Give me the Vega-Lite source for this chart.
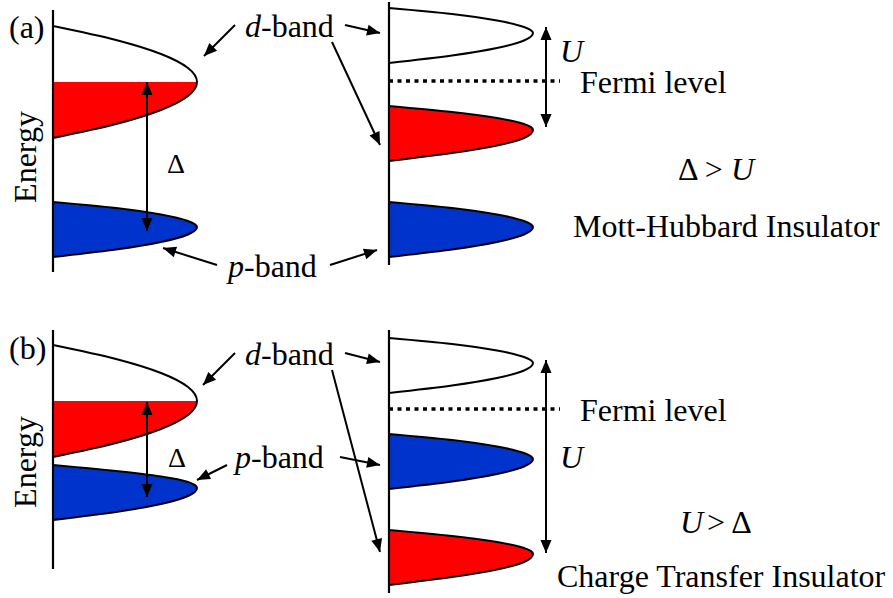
{
  "$schema": "https://vega.github.io/schema/vega-lite/v6.json",
  "width": 893,
  "height": 598,
  "padding": 0,
  "autosize": {"type": "none"},
  "background": "white",
  "config": {"view": {"stroke": null}},
  "datasets": {
    "bands": [
      {"band": "a-dL", "kind": "empty", "base": 53, "y": 26, "x": 53},
      {"band": "a-dL", "kind": "empty", "base": 53, "y": 40, "x": 116},
      {"band": "a-dL", "kind": "empty", "base": 53, "y": 54, "x": 161},
      {"band": "a-dL", "kind": "empty", "base": 53, "y": 68, "x": 188},
      {"band": "a-dL", "kind": "occupied", "base": 53, "y": 82, "x": 197},
      {"band": "a-dL", "kind": "occupied", "base": 53, "y": 96, "x": 188},
      {"band": "a-dL", "kind": "occupied", "base": 53, "y": 110, "x": 161},
      {"band": "a-dL", "kind": "occupied", "base": 53, "y": 124, "x": 116},
      {"band": "a-dL", "kind": "occupied", "base": 53, "y": 138, "x": 53},

      {"band": "a-pL", "kind": "p", "base": 53, "y": 202, "x": 53},
      {"band": "a-pL", "kind": "p", "base": 53, "y": 208, "x": 116},
      {"band": "a-pL", "kind": "p", "base": 53, "y": 214.5, "x": 161},
      {"band": "a-pL", "kind": "p", "base": 53, "y": 221, "x": 188},
      {"band": "a-pL", "kind": "p", "base": 53, "y": 227, "x": 197},
      {"band": "a-pL", "kind": "p", "base": 53, "y": 234.5, "x": 188},
      {"band": "a-pL", "kind": "p", "base": 53, "y": 242, "x": 161},
      {"band": "a-pL", "kind": "p", "base": 53, "y": 249.5, "x": 116},
      {"band": "a-pL", "kind": "p", "base": 53, "y": 257, "x": 53},

      {"band": "a-wR", "kind": "empty", "base": 389, "y": 8, "x": 389},
      {"band": "a-wR", "kind": "empty", "base": 389, "y": 14, "x": 452},
      {"band": "a-wR", "kind": "empty", "base": 389, "y": 20.5, "x": 497},
      {"band": "a-wR", "kind": "empty", "base": 389, "y": 27, "x": 524},
      {"band": "a-wR", "kind": "empty", "base": 389, "y": 33, "x": 533},
      {"band": "a-wR", "kind": "empty", "base": 389, "y": 40.5, "x": 524},
      {"band": "a-wR", "kind": "empty", "base": 389, "y": 48, "x": 497},
      {"band": "a-wR", "kind": "empty", "base": 389, "y": 55.5, "x": 452},
      {"band": "a-wR", "kind": "empty", "base": 389, "y": 63, "x": 389},

      {"band": "a-rR", "kind": "occupied", "base": 389, "y": 106, "x": 389},
      {"band": "a-rR", "kind": "occupied", "base": 389, "y": 112, "x": 452},
      {"band": "a-rR", "kind": "occupied", "base": 389, "y": 118, "x": 497},
      {"band": "a-rR", "kind": "occupied", "base": 389, "y": 124, "x": 524},
      {"band": "a-rR", "kind": "occupied", "base": 389, "y": 130, "x": 533},
      {"band": "a-rR", "kind": "occupied", "base": 389, "y": 138, "x": 524},
      {"band": "a-rR", "kind": "occupied", "base": 389, "y": 145.5, "x": 497},
      {"band": "a-rR", "kind": "occupied", "base": 389, "y": 153, "x": 452},
      {"band": "a-rR", "kind": "occupied", "base": 389, "y": 161, "x": 389},

      {"band": "a-bR", "kind": "p", "base": 389, "y": 202, "x": 389},
      {"band": "a-bR", "kind": "p", "base": 389, "y": 208, "x": 452},
      {"band": "a-bR", "kind": "p", "base": 389, "y": 214.5, "x": 497},
      {"band": "a-bR", "kind": "p", "base": 389, "y": 221, "x": 524},
      {"band": "a-bR", "kind": "p", "base": 389, "y": 227, "x": 533},
      {"band": "a-bR", "kind": "p", "base": 389, "y": 234.5, "x": 524},
      {"band": "a-bR", "kind": "p", "base": 389, "y": 242, "x": 497},
      {"band": "a-bR", "kind": "p", "base": 389, "y": 249.5, "x": 452},
      {"band": "a-bR", "kind": "p", "base": 389, "y": 257, "x": 389},

      {"band": "b-dL", "kind": "empty", "base": 53, "y": 345, "x": 53},
      {"band": "b-dL", "kind": "empty", "base": 53, "y": 359, "x": 116},
      {"band": "b-dL", "kind": "empty", "base": 53, "y": 373, "x": 161},
      {"band": "b-dL", "kind": "empty", "base": 53, "y": 387, "x": 188},
      {"band": "b-dL", "kind": "occupied", "base": 53, "y": 401, "x": 197},
      {"band": "b-dL", "kind": "occupied", "base": 53, "y": 415, "x": 188},
      {"band": "b-dL", "kind": "occupied", "base": 53, "y": 429, "x": 161},
      {"band": "b-dL", "kind": "occupied", "base": 53, "y": 443, "x": 116},
      {"band": "b-dL", "kind": "occupied", "base": 53, "y": 457, "x": 53},

      {"band": "b-pL", "kind": "p", "base": 53, "y": 465, "x": 53},
      {"band": "b-pL", "kind": "p", "base": 53, "y": 471, "x": 116},
      {"band": "b-pL", "kind": "p", "base": 53, "y": 476.5, "x": 161},
      {"band": "b-pL", "kind": "p", "base": 53, "y": 482, "x": 188},
      {"band": "b-pL", "kind": "p", "base": 53, "y": 488, "x": 197},
      {"band": "b-pL", "kind": "p", "base": 53, "y": 496, "x": 188},
      {"band": "b-pL", "kind": "p", "base": 53, "y": 504, "x": 161},
      {"band": "b-pL", "kind": "p", "base": 53, "y": 512, "x": 116},
      {"band": "b-pL", "kind": "p", "base": 53, "y": 520, "x": 53},

      {"band": "b-wR", "kind": "empty", "base": 389, "y": 338, "x": 389},
      {"band": "b-wR", "kind": "empty", "base": 389, "y": 344, "x": 452},
      {"band": "b-wR", "kind": "empty", "base": 389, "y": 350.5, "x": 497},
      {"band": "b-wR", "kind": "empty", "base": 389, "y": 357, "x": 524},
      {"band": "b-wR", "kind": "empty", "base": 389, "y": 363, "x": 533},
      {"band": "b-wR", "kind": "empty", "base": 389, "y": 370.5, "x": 524},
      {"band": "b-wR", "kind": "empty", "base": 389, "y": 378, "x": 497},
      {"band": "b-wR", "kind": "empty", "base": 389, "y": 385.5, "x": 452},
      {"band": "b-wR", "kind": "empty", "base": 389, "y": 393, "x": 389},

      {"band": "b-bR", "kind": "p", "base": 389, "y": 434, "x": 389},
      {"band": "b-bR", "kind": "p", "base": 389, "y": 440, "x": 452},
      {"band": "b-bR", "kind": "p", "base": 389, "y": 446.5, "x": 497},
      {"band": "b-bR", "kind": "p", "base": 389, "y": 453, "x": 524},
      {"band": "b-bR", "kind": "p", "base": 389, "y": 459, "x": 533},
      {"band": "b-bR", "kind": "p", "base": 389, "y": 466.5, "x": 524},
      {"band": "b-bR", "kind": "p", "base": 389, "y": 474, "x": 497},
      {"band": "b-bR", "kind": "p", "base": 389, "y": 481.5, "x": 452},
      {"band": "b-bR", "kind": "p", "base": 389, "y": 489, "x": 389},

      {"band": "b-rR", "kind": "occupied", "base": 389, "y": 530, "x": 389},
      {"band": "b-rR", "kind": "occupied", "base": 389, "y": 536, "x": 452},
      {"band": "b-rR", "kind": "occupied", "base": 389, "y": 542, "x": 497},
      {"band": "b-rR", "kind": "occupied", "base": 389, "y": 548, "x": 524},
      {"band": "b-rR", "kind": "occupied", "base": 389, "y": 554, "x": 533},
      {"band": "b-rR", "kind": "occupied", "base": 389, "y": 562, "x": 524},
      {"band": "b-rR", "kind": "occupied", "base": 389, "y": 569.5, "x": 497},
      {"band": "b-rR", "kind": "occupied", "base": 389, "y": 577, "x": 452},
      {"band": "b-rR", "kind": "occupied", "base": 389, "y": 585, "x": 389}
    ],
    "axes": [
      {"panel": "a", "side": "left", "x": 53, "y": 10, "y2": 272},
      {"panel": "a", "side": "right", "x": 389, "y": 2, "y2": 265},
      {"panel": "b", "side": "left", "x": 53, "y": 330, "y2": 569},
      {"panel": "b", "side": "right", "x": 389, "y": 330, "y2": 593}
    ],
    "fermi": [
      {"panel": "a", "x": 389, "x2": 560, "y": 81},
      {"panel": "b", "x": 389, "x2": 560, "y": 409}
    ],
    "arrows": [
      {"x": 235, "y": 25, "x2": 204, "y2": 56},
      {"x": 345, "y": 25, "x2": 380, "y2": 33},
      {"x": 332, "y": 42, "x2": 380, "y2": 145},
      {"x": 217, "y": 265, "x2": 163, "y2": 248},
      {"x": 330, "y": 265, "x2": 377, "y2": 250},
      {"x": 147, "y": 82, "x2": 147, "y2": 231},
      {"x": 546, "y": 27, "x2": 546, "y2": 127},
      {"x": 235, "y": 353, "x2": 203, "y2": 385},
      {"x": 345, "y": 353, "x2": 380, "y2": 362},
      {"x": 332, "y": 370, "x2": 380, "y2": 552},
      {"x": 227, "y": 465, "x2": 197, "y2": 480},
      {"x": 340, "y": 457, "x2": 380, "y2": 465},
      {"x": 147, "y": 402, "x2": 147, "y2": 497},
      {"x": 546, "y": 360, "x2": 546, "y2": 553}
    ],
    "heads": [
      {"x": 204, "y": 56, "angle": 225},
      {"x": 380, "y": 33, "angle": 103},
      {"x": 380, "y": 145, "angle": 155},
      {"x": 163, "y": 248, "angle": 287.5},
      {"x": 377, "y": 250, "angle": 72.3},
      {"x": 147, "y": 82, "angle": 0},
      {"x": 147, "y": 231, "angle": 180},
      {"x": 546, "y": 27, "angle": 0},
      {"x": 546, "y": 127, "angle": 180},
      {"x": 203, "y": 385, "angle": 225},
      {"x": 380, "y": 362, "angle": 104.4},
      {"x": 380, "y": 552, "angle": 165.2},
      {"x": 197, "y": 480, "angle": 243.4},
      {"x": 380, "y": 465, "angle": 101.3},
      {"x": 147, "y": 402, "angle": 0},
      {"x": 147, "y": 497, "angle": 180},
      {"x": 546, "y": 360, "angle": 0},
      {"x": 546, "y": 553, "angle": 180}
    ],
    "labels": [
      {"text": "(a)", "role": "text", "x": 9, "y": 38},
      {"text": "(b)", "role": "text", "x": 9, "y": 359},
      {"text": "-band", "role": "text", "x": 261, "y": 37},
      {"text": "-band", "role": "text", "x": 261, "y": 365},
      {"text": "-band", "role": "text", "x": 244, "y": 277},
      {"text": "-band", "role": "text", "x": 251, "y": 468},
      {"text": "Fermi level", "role": "text", "x": 580, "y": 93},
      {"text": "Fermi level", "role": "text", "x": 580, "y": 421},
      {"text": "Δ", "role": "symbol", "x": 167, "y": 173},
      {"text": "Δ", "role": "symbol", "x": 168, "y": 467},
      {"text": "Δ >", "role": "text", "x": 678, "y": 180},
      {"text": "Mott-Hubbard Insulator", "role": "text", "x": 573, "y": 237},
      {"text": "> Δ", "role": "text", "x": 707, "y": 533},
      {"text": "Charge Transfer Insulator", "role": "text", "x": 557, "y": 587},
      {"text": "d", "role": "variable", "x": 245, "y": 37},
      {"text": "d", "role": "variable", "x": 245, "y": 365},
      {"text": "p", "role": "variable", "x": 228, "y": 277},
      {"text": "p", "role": "variable", "x": 235, "y": 468},
      {"text": "U", "role": "variable", "x": 560, "y": 62},
      {"text": "U", "role": "variable", "x": 560, "y": 468},
      {"text": "U", "role": "variable", "x": 731, "y": 180},
      {"text": "U", "role": "variable", "x": 680, "y": 533}
    ],
    "energy": [
      {"text": "Energy", "x": 36, "y": 157},
      {"text": "Energy", "x": 36, "y": 462}
    ]
  },
  "encoding": {
    "x": {"field": "x", "type": "quantitative", "scale": {"domain": [0, 893], "nice": false, "zero": false}, "axis": null, "stack": null},
    "y": {"field": "y", "type": "quantitative", "scale": {"domain": [0, 598], "reverse": true, "nice": false, "zero": false}, "axis": null, "stack": null}
  },
  "layer": [
    {
      "data": {"name": "bands"},
      "transform": [{"filter": "datum.kind != 'empty'"}],
      "mark": {"type": "area", "orient": "horizontal", "interpolate": "monotone", "opacity": 1},
      "encoding": {
        "x2": {"field": "base"},
        "color": {"field": "kind", "type": "nominal", "scale": {"domain": ["occupied", "p"], "range": ["#ff0000", "#0033cc"]}, "legend": null},
        "detail": {"field": "band"}
      }
    },
    {
      "data": {"name": "bands"},
      "mark": {"type": "area", "orient": "horizontal", "interpolate": "monotone", "fill": "transparent", "stroke": "black", "strokeWidth": 2},
      "encoding": {
        "x2": {"field": "base"},
        "detail": {"field": "band"}
      }
    },
    {
      "data": {"name": "axes"},
      "mark": {"type": "rule", "color": "black", "strokeWidth": 2.2},
      "encoding": {"y2": {"field": "y2"}}
    },
    {
      "data": {"name": "fermi"},
      "mark": {"type": "rule", "color": "black", "strokeWidth": 3.5, "strokeDash": [4, 4.5]},
      "encoding": {"x2": {"field": "x2"}}
    },
    {
      "data": {"name": "arrows"},
      "mark": {"type": "rule", "color": "black", "strokeWidth": 2},
      "encoding": {"x2": {"field": "x2"}, "y2": {"field": "y2"}}
    },
    {
      "data": {"name": "heads"},
      "mark": {"type": "point", "shape": "M0,0L0.85,2L-0.85,2Z", "filled": true, "color": "black", "opacity": 1, "size": 169, "strokeWidth": 0},
      "encoding": {"angle": {"field": "angle", "type": "quantitative", "scale": null}}
    },
    {
      "data": {"name": "labels"},
      "transform": [{"filter": "datum.role == 'text'"}],
      "mark": {"type": "text", "font": "Liberation Serif", "fontSize": 32, "align": "left", "baseline": "alphabetic", "color": "black"},
      "encoding": {"text": {"field": "text"}}
    },
    {
      "data": {"name": "labels"},
      "transform": [{"filter": "datum.role == 'symbol'"}],
      "mark": {"type": "text", "font": "Liberation Serif", "fontSize": 28, "align": "left", "baseline": "alphabetic", "color": "black"},
      "encoding": {"text": {"field": "text"}}
    },
    {
      "data": {"name": "labels"},
      "transform": [{"filter": "datum.role == 'variable'"}],
      "mark": {"type": "text", "font": "Liberation Serif", "fontStyle": "italic", "fontSize": 32, "align": "left", "baseline": "alphabetic", "color": "black"},
      "encoding": {"text": {"field": "text"}}
    },
    {
      "data": {"name": "energy"},
      "mark": {"type": "text", "font": "Liberation Serif", "fontSize": 32, "angle": 270, "align": "center", "baseline": "alphabetic", "color": "black"},
      "encoding": {"text": {"field": "text"}}
    }
  ]
}
